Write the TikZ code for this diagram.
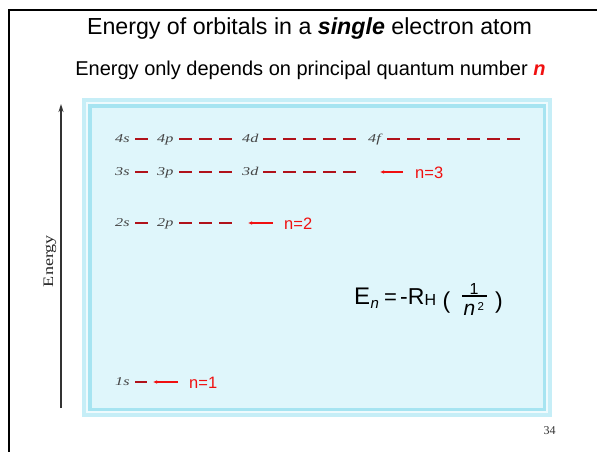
\documentclass[tikz,border=0pt]{standalone}
\usepackage{fontspec}
\setmainfont{Liberation Sans}
\newfontfamily\orbfont[FakeStretch=1.35]{Liberation Serif}
\newfontfamily\serifnum{Liberation Serif}
\usetikzlibrary{arrows.meta}
\definecolor{boxfill}{HTML}{DFF6FB}
\definecolor{bandlight}{HTML}{C6EEF7}
\definecolor{bandwhite}{HTML}{EEFAFD}
\definecolor{banddark}{HTML}{A6E4F1}
\definecolor{orbred}{HTML}{B0121A}
\definecolor{labred}{HTML}{F01010}
\definecolor{orbgray}{HTML}{444444}
\tikzset{
  orblabel/.style={anchor=base west,inner sep=0pt,font=\orbfont\itshape\fontsize{12}{12}\selectfont,text=orbgray},
  orbline/.style={orbred,line width=2.8pt,dash pattern=on 12.7pt off 7.3pt},
  nlabel/.style={anchor=base west,inner sep=0pt,text=labred,font=\fontsize{16.5}{16.5}\selectfont},
  narrow/.style={labred,line width=1.1pt,-{Latex[length=4pt,width=3.6pt]}},
  ftext/.style={anchor=base west,inner sep=0pt},
}
\begin{document}
\begin{tikzpicture}[x=1pt,y=-1pt]
\useasboundingbox (0,0) rectangle (597,452);
% frame
\draw[line width=2pt] (8.5,10.5) -- (597,10.5);
\draw[line width=2pt] (8.5,9.5) -- (8.5,452);
% titles
\node[inner sep=0pt,anchor=base] (title) at (309.5,35) {\fontsize{23.2}{23.2}\selectfont Energy of orbitals in a \textbf{\textit{single}} electron atom};
\node[inner sep=0pt,anchor=base] (subtitle) at (310.5,75) {\fontsize{20}{20}\selectfont Energy only depends on principal quantum number \textcolor{labred}{\textbf{\textit{n}}}};
% blue box
\fill[bandlight] (82,98) rectangle (552,417);
\fill[bandwhite] (86,102) rectangle (548,413);
\fill[banddark] (88,104) rectangle (546,411);
\fill[boxfill] (92,108) rectangle (543,408);
% energy axis
\coordinate (axbot) at (61,408);
\coordinate (axtop) at (61,104);
\draw[color=black!80,line width=1.4pt,-{Stealth[length=8pt,width=5pt]}] (axbot) -- (axtop);
\node[rotate=90,inner sep=0pt,font=\serifnum\fontsize{14.5}{14.5}\selectfont,text=black!85] (elabel) at (50,261) {\scalebox{1.25}[1]{Energy}};
% row 4
\node[orblabel] (l4s) at (115,142.5) {4s};
\node[orblabel] (l4p) at (157,142.5) {4p};
\node[orblabel] (l4d) at (242,142.5) {4d};
\node[orblabel] (l4f) at (368,142.5) {4f};
\draw[orbline] (135,139) -- (147.7,139);
\draw[orbline] (179,139) -- (231.7,139);
\draw[orbline] (263,139) -- (355.7,139);
\draw[orbline] (387,139) -- (519.7,139);
% row 3
\node[orblabel] (l3s) at (115,175.5) {3s};
\node[orblabel] (l3p) at (157,175.5) {3p};
\node[orblabel] (l3d) at (242,175.5) {3d};
\draw[orbline,line width=2.3pt] (135,172) -- (147.7,172);
\draw[orbline,line width=2.3pt] (179,172) -- (231.7,172);
\draw[orbline,line width=2.3pt] (263,172) -- (355.7,172);
\node[nlabel] (n3) at (415,178) {n=3};
\coordinate (a3s) at (403,172);
\coordinate (a3e) at (380,172);
\draw[narrow] (a3s) -- (a3e);
% row 2
\node[orblabel] (l2s) at (115,226.5) {2s};
\node[orblabel] (l2p) at (157,226.5) {2p};
\draw[orbline] (135,223) -- (147.7,223);
\draw[orbline] (179,223) -- (231.7,223);
\node[nlabel] (n2) at (284,229) {n=2};
\coordinate (a2s) at (273,223);
\coordinate (a2e) at (248,223);
\draw[narrow] (a2s) -- (a2e);
% row 1
\node[orblabel] (l1s) at (115,385.5) {1s};
\draw[orbred,line width=1.4pt] (135,382) -- (147,382);
\node[nlabel] (n1) at (189,388) {n=1};
\coordinate (a1s) at (178,382);
\coordinate (a1e) at (153,382);
\draw[narrow] (a1s) -- (a1e);
% formula
\node[ftext,font=\fontsize{24}{24}\selectfont] (fE) at (354,304.3) {E};
\node[ftext,font=\fontsize{15}{15}\selectfont\itshape] (fn) at (370.5,308) {n};
\node[ftext,font=\fontsize{22}{22}\selectfont] (feq) at (384,304.3) {=};
\node[ftext,font=\fontsize{23}{23}\selectfont] (fR) at (400,304.3) {-R};
\node[ftext,font=\fontsize{16}{16}\selectfont] (fH) at (424.5,305) {H};
\node[ftext,font=\fontsize{23}{23}\selectfont] (flp) at (442.5,308.5) {(};
\node[inner sep=0pt,anchor=base,font=\fontsize{16}{16}\selectfont] (fone) at (474,294) {1};
\coordinate (fbarl) at (462,296);
\coordinate (fbarr) at (487,296);
\draw[line width=1.4pt] (fbarl) -- (fbarr);
\node[ftext,font=\fontsize{21}{21}\selectfont\itshape] (fnn) at (463.5,315) {n};
\node[ftext,font=\fontsize{11.5}{11.5}\selectfont] (ftwo) at (477.5,310.5) {2};
\node[ftext,font=\fontsize{23}{23}\selectfont] (frp) at (495,308.5) {)};
% page number
\node[inner sep=0pt,anchor=base,font=\serifnum\fontsize{12}{12}\selectfont,text=black!80] (page) at (549.5,434) {34};
\end{tikzpicture}
\end{document}
